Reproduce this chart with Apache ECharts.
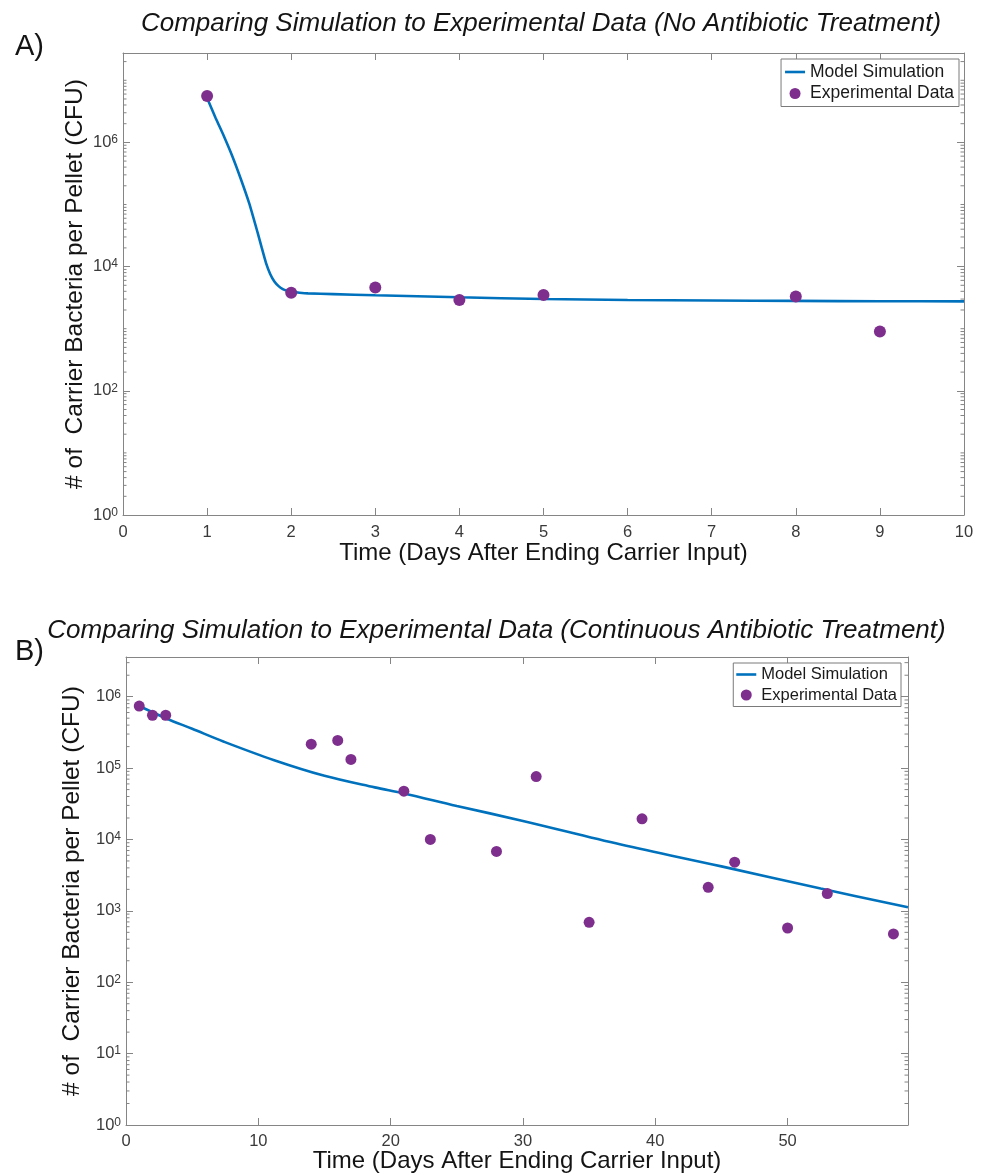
<!DOCTYPE html>
<html>
<head>
<meta charset="utf-8">
<script src="https://cdn.jsdelivr.net/npm/echarts@6/dist/echarts.min.js"></script>
<style>
html,body{margin:0;padding:0;background:#fff;}
#c{width:987px;height:1176px;}
</style>
</head>
<body>
<div id="c"></div>
<script>
// ---------- Data ----------
// Panel A: no antibiotic treatment
const modelA_x = [1.0, 1.1, 1.2, 1.3, 1.4, 1.5, 1.6, 1.65, 1.7, 1.75, 1.8, 1.85, 1.9, 1.95, 2.0, 2.1, 2.2, 2.5, 3, 4, 5, 6, 7, 8, 9, 10];
const modelA_y = [5.2e6, 2.5e6, 1.26e6, 6.0e5, 2.6e5, 1.05e5, 3.55e4, 2.0e4, 1.15e4, 7.6e3, 5.75e3, 4.85e3, 4.35e3, 4.1e3, 3.95e3, 3.8e3, 3.7e3, 3.6e3, 3.45e3, 3.2e3, 3.0e3, 2.9e3, 2.85e3, 2.8e3, 2.77e3, 2.75e3];
const expA_x = [1, 2, 3, 4, 5, 8, 9];
const expA_y = [5.6e6, 3.8e3, 4.6e3, 2.9e3, 3.5e3, 3.3e3, 900];

// Panel B: continuous antibiotic treatment
const modelB_x = [1, 3, 5, 7.4, 11.2, 15, 18.8, 21, 25, 30, 37.4, 45, 52.5, 59.1];
const modelB_y = [7.4e5, 5.0e5, 3.55e5, 2.34e5, 1.29e5, 7.8e4, 5.37e4, 4.42e4, 2.95e4, 1.82e4, 8.5e3, 4.2e3, 2.05e3, 1.12e3];
const expB_x = [1, 2, 3, 14, 16, 17, 21, 23, 28, 31, 35, 39, 44, 46, 50, 53, 58];
const expB_y = [7.4e5, 5.5e5, 5.5e5, 2.16e5, 2.44e5, 1.32e5, 4.75e4, 1.0e4, 6.8e3, 7.6e4, 690, 1.95e4, 2.14e3, 4.8e3, 575, 1.75e3, 475];

// Axis ranges / ticks
const xA_min = 0, xA_max = 10, xA_interval = 1;
const yA_min = 1, yA_max = 2.75e7;
const xB_min = 0, xB_max = 59.1, xB_interval = 10;
const yB_min = 1, yB_max = 3.6e6;

// Texts
const titleA = 'Comparing Simulation to Experimental Data (No Antibiotic Treatment)';
const titleB = 'Comparing Simulation to Experimental Data (Continuous Antibiotic Treatment)';
const panelA = 'A)';
const panelB = 'B)';
const xName = 'Time (Days After Ending Carrier Input)';
const yName = '# of  Carrier Bacteria per Pellet (CFU)';
const legendNames = ['Model Simulation', 'Experimental Data'];

// ---------- helpers ----------
const FONT = '"Liberation Sans", Arial, Helvetica, sans-serif';
const axisColor = '#858585';
const labelColor = '#3a3a3a';
const lineColor = '#0072BD';
const dotColor = '#7E2F8E';

function pairs(xs, ys) { return xs.map((x, i) => [x, ys[i]]); }

// MATLAB style minor ticks on log axes (axis decoration)
function minorTicks(maxV, majorEvery) {
  const out = [];
  for (let k = 0; k <= 8; k++) {
    for (let m = 1; m <= 9; m++) {
      const v = m * Math.pow(10, k);
      if (v > maxV * 1.0001) continue;
      if (m === 1 && k % majorEvery === 0) continue;
      out.push(v);
    }
  }
  return out;
}
const minorA = minorTicks(yA_max, 2);
const minorB = minorTicks(yB_max, 1);

function supLabel(v) {
  const e = Math.log10(v);
  const r = Math.round(e);
  if (Math.abs(e - r) > 1e-6) return '';
  return '{b|10}{s|' + r + '}';
}
function richFor(baseSize) {
  return {
    b: { fontSize: baseSize, lineHeight: 17, color: labelColor, fontFamily: FONT, verticalAlign: 'bottom' },
    s: { fontSize: 12, lineHeight: 12, padding: [0, 0, 10, 0], color: labelColor, fontFamily: FONT, verticalAlign: 'top' }
  };
}

function xAxisCfg(grid, min, max, interval, pos, withLabels, gap, fmt) {
  return {
    gridIndex: grid, type: 'value', min: min, max: max, interval: interval, position: pos,
    axisLine: { show: true, onZero: false, lineStyle: { color: axisColor, width: 1 } },
    axisTick: { show: true, inside: true, length: 7, lineStyle: { color: axisColor } },
    splitLine: { show: false },
    axisLabel: withLabels ? { show: true, margin: grid === 0 ? 9 : 7.5, fontSize: 16.5, color: labelColor, fontFamily: FONT, formatter: fmt } : { show: false },
    name: withLabels ? xName : '',
    nameLocation: 'middle', nameGap: gap, nameMoveOverlap: false,
    nameTextStyle: { fontSize: 24, color: '#141414', fontFamily: FONT }
  };
}
function yAxisCfg(grid, logBase, min, max, pos, withLabels, gap) {
  return {
    gridIndex: grid, type: 'log', logBase: logBase, min: min, max: max, position: pos,
    axisLine: { show: true, onZero: false, lineStyle: { color: axisColor, width: 1 } },
    axisTick: { show: true, inside: true, length: 7, lineStyle: { color: axisColor } },
    minorTick: { show: false },
    splitLine: { show: false },
    axisLabel: withLabels ? { show: true, margin: 5, formatter: supLabel, rich: richFor(16.5) } : { show: false },
    name: withLabels ? yName : '',
    nameLocation: 'middle', nameGap: gap, nameRotate: 90, nameMoveOverlap: false,
    nameTextStyle: { fontSize: 24.5, color: '#141414', fontFamily: FONT }
  };
}

function minorSeries(xIdx, yIdx, vals) {
  return {
    type: 'custom', xAxisIndex: xIdx, yAxisIndex: yIdx, silent: true, z: 1,
    data: vals.map(v => [0, v]),
    renderItem: function (params, api) {
      const y = api.coord([api.value(0), api.value(1)])[1];
      const cs = params.coordSys;
      const L = 3.5;
      const st = { stroke: axisColor, lineWidth: 1 };
      return {
        type: 'group',
        children: [
          { type: 'line', shape: { x1: cs.x, y1: y, x2: cs.x + L, y2: y }, style: st },
          { type: 'line', shape: { x1: cs.x + cs.width - L, y1: y, x2: cs.x + cs.width, y2: y }, style: st }
        ]
      };
    }
  };
}

function legendCfg(right, top, fontSize, gap, pad) {
  return {
    orient: 'vertical', right: right, top: top,
    itemWidth: 20, itemHeight: 11, itemGap: gap,
    padding: pad,
    backgroundColor: '#ffffff', borderColor: '#7a7a7a', borderWidth: 1, borderRadius: 0,
    textStyle: { fontSize: fontSize, color: '#1a1a1a', fontFamily: FONT },
    selectedMode: false,
    data: [
      { name: legendNames[0], icon: 'path://M0,0h20v2.6h-20z', itemStyle: { color: lineColor, borderWidth: 0 } },
      { name: legendNames[1], icon: 'circle', itemStyle: { color: dotColor, borderWidth: 0 } }
    ]
  };
}

const chart = echarts.init(document.getElementById('c'), null, { renderer: 'canvas' });
chart.setOption({
  backgroundColor: '#ffffff',
  animation: false,
  textStyle: { fontFamily: FONT },
  grid: [
    { left: 123, top: 53, width: 841, height: 462, containLabel: false },
    { left: 126, top: 657, width: 782, height: 468, containLabel: false }
  ],
  xAxis: [
    xAxisCfg(0, xA_min, xA_max, xA_interval, 'bottom', true, 26, v => String(v)),
    xAxisCfg(0, xA_min, xA_max, xA_interval, 'top', false, 0),
    xAxisCfg(1, xB_min, xB_max, xB_interval, 'bottom', true, 24.5, v => (Math.abs(v % 10) < 1e-9 ? String(v) : '')),
    xAxisCfg(1, xB_min, xB_max, xB_interval, 'top', false, 0)
  ],
  yAxis: [
    yAxisCfg(0, 100, yA_min, yA_max, 'left', true, 35.5),
    yAxisCfg(0, 100, yA_min, yA_max, 'right', false, 0),
    yAxisCfg(1, 10, yB_min, yB_max, 'left', true, 41),
    yAxisCfg(1, 10, yB_min, yB_max, 'right', false, 0)
  ],
  legend: [
    legendCfg(28, 59, 17.5, 3.5, [4, 5, 4, 4]),
    legendCfg(86, 663, 16.5, 3.5, [3, 4, 3, 3])
  ],
  graphic: [
    { type: 'text', x: 541, y: 23.5, style: { text: titleA, fontSize: 26, fontStyle: 'italic', fontFamily: FONT, fill: '#141414', align: 'center', verticalAlign: 'middle' } },
    { type: 'text', x: 496.5, y: 631, style: { text: titleB, fontSize: 26, fontStyle: 'italic', fontFamily: FONT, fill: '#141414', align: 'center', verticalAlign: 'middle' } },
    { type: 'text', x: 15, y: 47, style: { text: panelA, fontSize: 29, fontFamily: FONT, fill: '#141414', align: 'left', verticalAlign: 'middle' } },
    { type: 'text', x: 15, y: 652, style: { text: panelB, fontSize: 29, fontFamily: FONT, fill: '#141414', align: 'left', verticalAlign: 'middle' } }
  ],
  series: [
    minorSeries(0, 0, minorA),
    minorSeries(2, 2, minorB),
    {
      name: legendNames[0], type: 'line', xAxisIndex: 0, yAxisIndex: 0,
      data: pairs(modelA_x, modelA_y), showSymbol: false, symbol: 'none', smooth: 0.2,
      lineStyle: { color: lineColor, width: 2.6 }, itemStyle: { color: lineColor }, z: 2
    },
    {
      name: legendNames[1], type: 'scatter', xAxisIndex: 0, yAxisIndex: 0,
      data: pairs(expA_x, expA_y), symbol: 'circle', symbolSize: 12,
      itemStyle: { color: dotColor, opacity: 1 }, z: 3
    },
    {
      name: legendNames[0], type: 'line', xAxisIndex: 2, yAxisIndex: 2,
      data: pairs(modelB_x, modelB_y), showSymbol: false, symbol: 'none', smooth: 0.35,
      lineStyle: { color: lineColor, width: 2.6 }, itemStyle: { color: lineColor }, z: 2
    },
    {
      name: legendNames[1], type: 'scatter', xAxisIndex: 2, yAxisIndex: 2,
      data: pairs(expB_x, expB_y), symbol: 'circle', symbolSize: 11,
      itemStyle: { color: dotColor, opacity: 1 }, z: 3
    }
  ]
});
</script>
</body>
</html>
